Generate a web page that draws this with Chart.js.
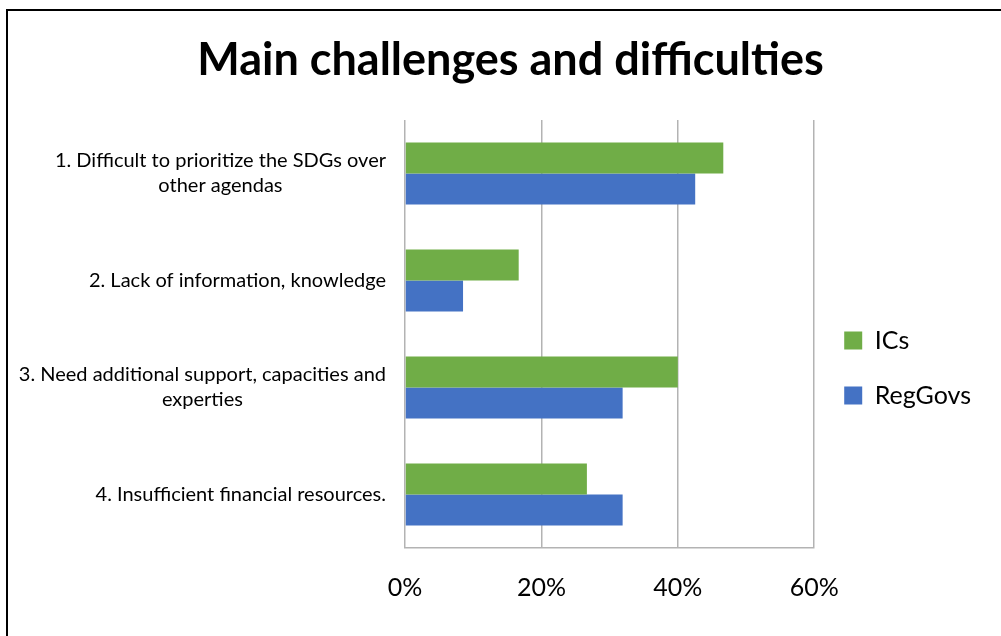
<!DOCTYPE html>
<html>
<head>
<meta charset="utf-8">
<title>Main challenges and difficulties</title>
<script src="https://cdn.jsdelivr.net/npm/chart.js@4.4.1/dist/chart.umd.min.js"></script>
<style>
  html, body { margin: 0; padding: 0; background: #fff; overflow: hidden; }
  .frame { position: absolute; left: 6px; top: 9px; width: 1100px; height: 700px; border-left: 2px solid #000; border-top: 2px solid #000; }
  #chart { display: block; }
</style>
</head>
<body>
<div class="frame"><canvas id="chart" width="1005" height="625"></canvas></div>
<script>
// ── DATA ─────────────────────────────────────────────
const categories = [
    ['1. Difficult to prioritize the SDGs over', 'other agendas'],
    '2. Lack of information, knowledge',
    ['3. Need additional support, capacities and', 'experties'],
    '4. Insufficient financial resources.'
];
const icsValues = [46.67, 16.67, 40.0, 26.67];
const regGovValues = [42.55, 8.51, 31.91, 31.91];
const xTicks = [0, 20, 40, 60];

// category labels: block right-aligned to the axis, lines centred inside the block
const catLabels = {
    id: 'catLabels',
    afterDraw(chart) {
        const { ctx, chartArea } = chart, y = chart.scales.y;
        ctx.save();
        ctx.font = '20px Lato';
        ctx.fillStyle = '#000';
        ctx.textAlign = 'center';
        ctx.textBaseline = 'middle';
        categories.forEach((lab, i) => {
            const lines = Array.isArray(lab) ? lab : [lab];
            const w = Math.max(...lines.map(l => ctx.measureText(l).width));
            const cx = chartArea.left - 19 - w / 2, cy = y.getPixelForTick(i);
            lines.forEach((l, j) => ctx.fillText(l, cx, cy + (j - (lines.length - 1) / 2) * 25));
        });
        ctx.restore();
    }
};

function drawChart() {
    Chart.defaults.font.family = 'Lato';
    const grid = '#b3b3b3';
    new Chart(document.getElementById('chart'), {
        type: 'bar',
        data: {
            labels: categories,
            datasets: [
                { label: 'ICs', data: icsValues, backgroundColor: '#70AD47', borderWidth: 0 },
                { label: 'RegGovs', data: regGovValues, backgroundColor: '#4472C4', borderWidth: 0 }
            ]
        },
        options: {
            responsive: false,
            animation: false,
            indexAxis: 'y',
            categoryPercentage: 0.58,
            barPercentage: 1,
            layout: { padding: { left: 32, right: 32 } },
            plugins: {
                title: { display: true, text: 'Main challenges and difficulties', color: '#000', font: { size: 45, weight: 'bold' }, padding: { top: 22, bottom: 33 } },
                legend: {
                    position: 'right',
                    title: { display: true, text: '', font: { size: 12, lineHeight: 1 }, padding: { top: 77, bottom: 0 } },
                    labels: { boxWidth: 18, boxHeight: 18, padding: 30, color: '#000', font: { size: 25 } }
                },
                tooltip: { enabled: false }
            },
            scales: {
                x: {
                    min: xTicks[0], max: xTicks[xTicks.length - 1],
                    afterBuildTicks: s => { s.ticks = xTicks.map(v => ({ value: v })); },
                    ticks: { callback: v => v + '%', color: '#000', font: { size: 25 }, padding: 25 },
                    grid: { color: grid, lineWidth: 1.5, drawTicks: false },
                    border: { color: grid, width: 1.5 },
                    afterFit(s) { s.height = 88; }
                },
                y: {
                    ticks: { display: false },
                    grid: { display: false },
                    border: { display: false },
                    afterFit(s) { s.width = 365; }
                }
            }
        },
        plugins: [catLabels]
    });
}

Promise.all([document.fonts.load('20px Lato'), document.fonts.load('bold 45px Lato')]).then(drawChart, drawChart);
</script>
</body>
</html>
